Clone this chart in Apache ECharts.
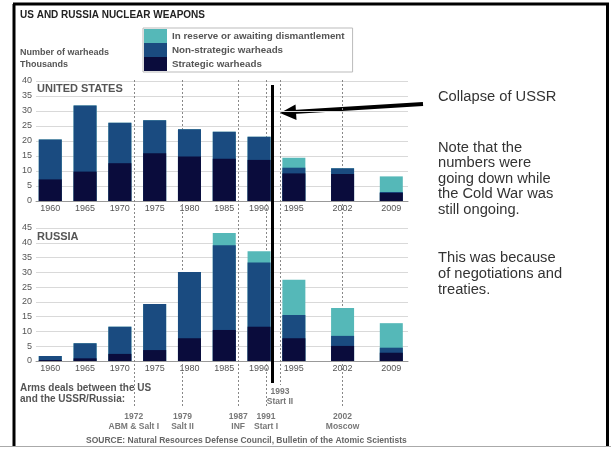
<!DOCTYPE html>
<html>
<head>
<meta charset="utf-8">
<script src="https://cdn.jsdelivr.net/npm/echarts@6/dist/echarts.min.js"></script>
<style>
html, body { margin: 0; padding: 0; background: #fff; }
#chart { width: 611px; height: 451px; }
</style>
</head>
<body>
<div id="chart"></div>
<script>
// data, thousands of warheads
var years = [1960, 1965, 1970, 1975, 1980, 1985, 1990, 1995, 2002, 2009];
var usStrategic    = [7.2, 9.8, 12.6, 15.9, 14.8, 14.1, 13.7, 9.2, 9.0, 2.7];
var usNonStrategic = [13.3, 22.0, 13.5, 11.0, 9.1, 9.0, 7.7, 1.9, 1.9, 0.3];
var usReserve      = [0, 0, 0, 0, 0, 0, 0, 3.3, 0, 5.2];
var ruStrategic    = [0.3, 0.9, 2.4, 3.7, 7.7, 10.5, 11.6, 7.7, 5.1, 2.8];
var ruNonStrategic = [1.4, 5.1, 9.2, 15.6, 22.4, 28.7, 21.7, 7.9, 3.4, 1.7];
var ruReserve      = [0, 0, 0, 0, 0, 4.1, 3.8, 11.9, 9.4, 8.3];

var dealYears = [1972, 1979, 1987, 1991, 1993, 2002];
var dealNames = ['ABM & Salt I', 'Salt II', 'INF', 'Start I', 'Start II', 'Moscow'];
var collapseYear = 1991.9;

var names = ['In reserve or awaiting dismantlement', 'Non-strategic warheads', 'Strategic warheads'];
var colors = { reserve: '#55b8b8', non: '#1a4b80', strat: '#0a0c3c' };
var FONT = '"Liberation Sans", Arial, sans-serif';

var chart = echarts.init(document.getElementById('chart'));

function xAx(gi, show) {
    return {
        type: 'value', gridIndex: gi, min: 1957.95, max: 2011.4,
        axisLine: { show: show, lineStyle: { color: '#999' } },
        axisTick: { show: false },
        splitLine: { show: false },
        axisLabel: {
            show: show, customValues: years, color: '#555', fontSize: 9, margin: 3,
            fontFamily: FONT,
            formatter: function (v) { return String(v); }
        }
    };
}
function yAx(gi, max) {
    return {
        type: 'value', gridIndex: gi, min: 0, max: max, interval: 5,
        axisLine: { show: false },
        axisTick: { show: false },
        axisLabel: { color: '#555', fontSize: 9, margin: 4, fontFamily: FONT },
        splitLine: { lineStyle: { color: '#d9d9d9', width: 1 } }
    };
}
// layered bars: running totals drawn back to front (reserve top, then non-strategic, then strategic)
function bars(gi, strat, non, res) {
    function mk(name, color, fn) {
        return {
            name: name, type: 'bar', xAxisIndex: gi, yAxisIndex: gi,
            barWidth: 23, barGap: '-100%', z: 3, silent: true,
            itemStyle: { color: color },
            data: years.map(function (y, i) { return [y, fn(i)]; })
        };
    }
    return [
        mk(names[0], colors.reserve, function (i) { return strat[i] + non[i] + res[i]; }),
        mk(names[1], colors.non, function (i) { return strat[i] + non[i]; }),
        mk(names[2], colors.strat, function (i) { return strat[i]; })
    ];
}

// deal lines in the overlay grid (y = px below its top)
var dealLines = dealYears.map(function (y) {
    var end = y === 1993 ? 305 : 327;
    return [{ coord: [y, 0] }, { coord: [y, end] }];
});

var option = {
    animation: false,
    backgroundColor: '#fff',
    textStyle: { fontFamily: FONT },
    title: [
        { text: 'US AND RUSSIA NUCLEAR WEAPONS', left: 20, top: 10, padding: 0,
          textStyle: { fontSize: 10, fontWeight: 'bold', color: '#222', fontFamily: FONT } },
        { text: 'UNITED STATES', left: 37, top: 83, padding: 0,
          textStyle: { fontSize: 11, fontWeight: 'bold', color: '#555', fontFamily: FONT } },
        { text: 'RUSSIA', left: 37, top: 231, padding: 0,
          textStyle: { fontSize: 11, fontWeight: 'bold', color: '#555', fontFamily: FONT } }
    ],
    legend: {
        data: names, orient: 'vertical', left: 143, top: 28,
        itemWidth: 23, itemHeight: 14, itemGap: 0, icon: 'rect',
        padding: [1, 8, 1, 1], borderColor: '#bbb', borderWidth: 1,
        selectedMode: false,
        textStyle: { fontSize: 9.8, fontWeight: 'bold', color: '#555', fontFamily: FONT }
    },
    grid: [
        { left: 36, width: 372, top: 81, height: 120 },
        { left: 36, width: 372, top: 228, height: 133 },
        { left: 36, width: 372, top: 80, height: 360 }
    ],
    xAxis: [xAx(0, true), xAx(1, true), xAx(2, false)],
    yAxis: [yAx(0, 40), yAx(1, 45),
        { type: 'value', gridIndex: 2, min: 0, max: 360, inverse: true, show: false }],
    series: [].concat(
        bars(0, usStrategic, usNonStrategic, usReserve),
        bars(1, ruStrategic, ruNonStrategic, ruReserve),
        [{
            name: 'deals', type: 'scatter', xAxisIndex: 2, yAxisIndex: 2, z: 1, silent: true,
            symbolSize: 0,
            data: dealYears.map(function (y) { return [y, y === 1993 ? 306 : 331]; }),
            label: {
                show: true, position: 'bottom', distance: 0,
                fontSize: 8.5, fontWeight: 'bold', color: '#555', lineHeight: 10.5, align: 'center',
                fontFamily: FONT,
                formatter: function (p) { return dealYears[p.dataIndex] + '\n' + dealNames[p.dataIndex]; }
            },
            markLine: {
                silent: true, z: 1, symbol: ['none', 'none'], label: { show: false },
                lineStyle: { type: [2, 2], color: '#888', width: 1 },
                data: dealLines
            }
        }, {
            name: 'collapse', type: 'line', xAxisIndex: 2, yAxisIndex: 2, z: 10, data: [],
            markLine: {
                silent: true, z: 10, symbol: ['none', 'none'], label: { show: false },
                lineStyle: { type: 'solid', color: '#000', width: 3 },
                data: [[{ coord: [collapseYear, 5] }, { coord: [collapseYear, 303] }]]
            }
        }]
    ),
    graphic: [
        // frame
        { type: 'line', shape: { x1: 14, y1: 4, x2: 14, y2: 446 }, style: { stroke: '#000', lineWidth: 3 } },
        { type: 'line', shape: { x1: 13, y1: 4, x2: 609, y2: 4 }, style: { stroke: '#000', lineWidth: 3 } },
        { type: 'line', shape: { x1: 607.5, y1: 4, x2: 607.5, y2: 446 }, style: { stroke: '#000', lineWidth: 3 } },
        { type: 'line', shape: { x1: 0, y1: 446.5, x2: 611, y2: 446.5 }, style: { stroke: '#aaa', lineWidth: 1 } },
        // texts
        { type: 'text', x: 20, y: 47, style: { text: 'Number of warheads\nThousands', font: 'bold 9px ' + FONT, fill: '#555', lineHeight: 12 } },
        { type: 'text', x: 20, y: 383, style: { text: 'Arms deals between the US\nand the USSR/Russia:', font: 'bold 10px ' + FONT, fill: '#555', lineHeight: 10.5 } },
        { type: 'text', x: 86, y: 436.5, style: { text: 'SOURCE: Natural Resources Defense Council, Bulletin of the Atomic Scientists', font: 'bold 8.5px ' + FONT, fill: '#666' } },
        { type: 'text', x: 438, y: 89, style: { text: 'Collapse of USSR', font: '14.7px ' + FONT, fill: '#333' } },
        { type: 'text', x: 438, y: 140, style: { text: 'Note that the\nnumbers were\ngoing down while\nthe Cold War was\nstill ongoing.', font: '14.7px ' + FONT, fill: '#333', lineHeight: 15.5 } },
        { type: 'text', x: 438, y: 250, style: { text: 'This was because\nof negotiations and\ntreaties.', font: '14.7px ' + FONT, fill: '#333', lineHeight: 16 } },
        // arrow
        { type: 'line', shape: { x1: 423, y1: 104, x2: 293, y2: 112 }, style: { stroke: '#000', lineWidth: 4 } },
        { type: 'polygon', shape: { points: [[280, 113], [296.5, 120], [295.5, 104.5]] }, style: { fill: '#000' } }
    ]
};
chart.setOption(option);
</script>
</body>
</html>
